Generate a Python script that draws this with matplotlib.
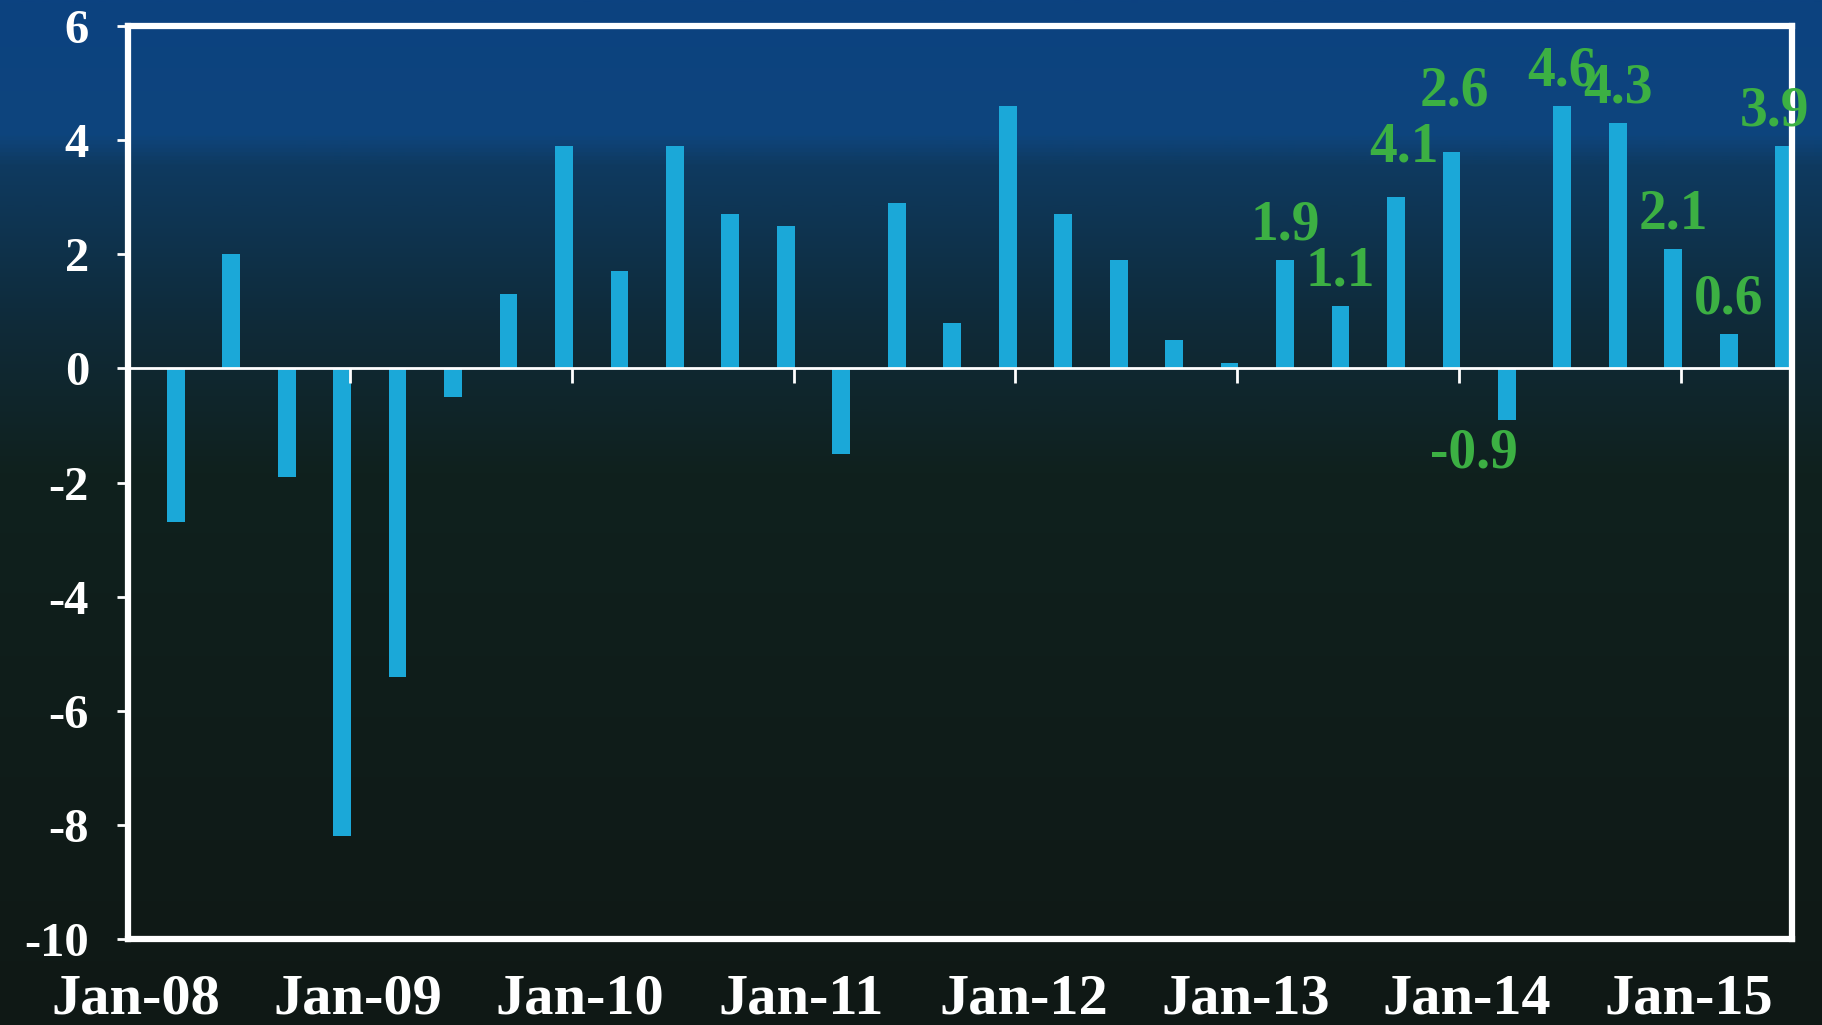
import numpy as np
import matplotlib.pyplot as plt
import matplotlib.transforms as mtransforms
from matplotlib.colors import LinearSegmentedColormap

# real GDP growth, quarterly, 2008Q1 - 2015Q2
growth = [-2.7, 2.0, -1.9, -8.2, -5.4, -0.5, 1.3, 3.9,
          1.7, 3.9, 2.7, 2.5, -1.5, 2.9, 0.8, 4.6,
          2.7, 1.9, 0.5, 0.1, 1.9, 1.1, 3.0, 3.8,
          -0.9, 4.6, 4.3, 2.1, 0.6, 3.9]
years = ['Jan-08', 'Jan-09', 'Jan-10', 'Jan-11',
         'Jan-12', 'Jan-13', 'Jan-14', 'Jan-15']
# labels shown over the last ten quarters
label_start = 20
label_texts = ['1.9', '1.1', '4.1', '2.6', '-0.9',
               '4.6', '4.3', '2.1', '0.6', '3.9']

BAR = '#1ba8d8'
GREEN = '#3cb043'
FONT = 'Liberation Serif'


def main():
    plt.rcParams['axes.unicode_minus'] = False
    fig = plt.figure(figsize=(18.22, 10.25), dpi=100)

    # background gradient, blue at the top fading to near black
    bg = fig.add_axes([0, 0, 1, 1], zorder=-1)
    cmap = LinearSegmentedColormap.from_list('bg', [
        (0.0, '#0c4280'), (0.13, '#0e457d'), (0.16, '#0e3a60'),
        (0.31, '#0f2b3a'), (0.46, '#10211e'), (1.0, '#0f1815')])
    grad = np.linspace(0, 1, 512).reshape(-1, 1)
    bg.imshow(grad, aspect='auto', cmap=cmap, extent=[0, 1, 0, 1],
              origin='upper')
    bg.axis('off')

    ax = fig.add_axes([128 / 1822, 1 - 939 / 1025,
                       (1792 - 128) / 1822, (939 - 26) / 1025])
    ax.set_facecolor('none')

    x = np.arange(len(growth))
    ax.bar(x, growth, width=0.32, color=BAR, zorder=2)
    ax.axhline(0, color='white', lw=2, zorder=3)

    x0 = -0.86
    ax.set_xlim(x0, x0 + len(growth))
    ax.set_ylim(-10, 6)
    ticks = x0 + 4 * np.arange(len(years))
    ax.set_xticks(ticks)
    ax.set_xticklabels(years)
    ax.vlines(ticks[1:], -0.25, 0, color='white', lw=2, zorder=3)
    ax.set_yticks(np.arange(-10, 7, 2))

    for s in ax.spines.values():
        s.set_color('white')
        s.set_linewidth(4.5)

    ax.tick_params(axis='x', length=0, pad=25, labelcolor='white',
                   labelsize=42)
    ax.tick_params(axis='y', length=8, width=2, color='white', pad=20,
                   labelcolor='white', labelsize=35)
    shift = mtransforms.ScaledTranslation(0.08, 0, fig.dpi_scale_trans)
    for lab in ax.get_xticklabels():
        lab.set_transform(lab.get_transform() + shift)
    for lab in ax.get_xticklabels() + ax.get_yticklabels():
        lab.set_fontfamily(FONT)
        lab.set_fontweight('bold')

    # nudges for the labels that are not right over their bars
    nudge = {22: (0.15, 0.27), 23: (0.05, 0.45), 24: (-0.6, 0.0),
             29: (-0.17, 0.0)}
    for k, txt in enumerate(label_texts):
        i = label_start + k
        v = growth[i]
        dx, dy = nudge.get(i, (0.0, 0.0))
        y = v + 0.6 + dy if v >= 0 else v - 0.6 - dy
        ax.text(i + dx, y, txt, ha='center', va='center', color=GREEN,
                fontsize=40, fontfamily=FONT, fontweight='bold', zorder=4)

    fig.savefig('out.png', dpi=100)


if __name__ == '__main__':
    main()
